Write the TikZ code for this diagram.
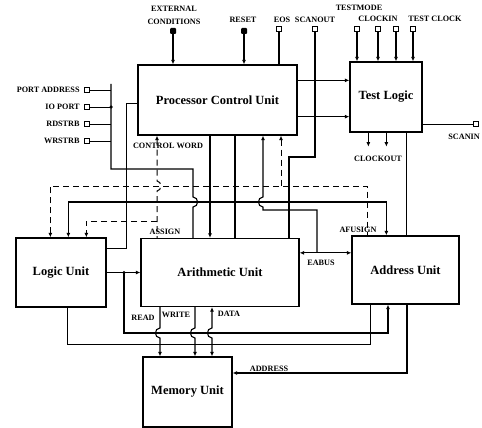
\documentclass[tikz,border=0pt]{standalone}
\usepackage{fontspec}
\setmainfont{Liberation Serif}
\usepackage{tikz}
\usetikzlibrary{arrows.meta,positioning,calc}

\begin{document}
\begin{tikzpicture}[x=1pt, y=-1pt,
  unitbox/.style={rectangle, draw, line width=1.3pt, inner sep=0pt,
    font=\fontsize{12.5}{14}\selectfont\bfseries},
  sig/.style={inner sep=1pt, align=center,
    font=\fontsize{8.2}{13}\selectfont\bfseries},
  hpin/.style={rectangle, draw, line width=0.9pt, fill=white,
    minimum width=5.5pt, minimum height=5pt, inner sep=0pt},
  fpin/.style={rectangle, rounded corners=1pt, fill, minimum width=6pt,
    minimum height=6pt, inner sep=0pt},
  wire/.style={line width=1.1pt},
  fine/.style={line width=0.8pt},
  ctrl/.style={line width=1pt, dash pattern=on 6pt off 4pt},
  tip/.style={-{Latex[length=4.5pt,width=4pt]}},
  pit/.style={{Latex[length=4.5pt,width=4pt]}-},
  both/.style={{Latex[length=4.5pt,width=4pt]}-{Latex[length=4.5pt,width=4pt]}},
  jdot/.style={circle, fill, inner sep=0pt, minimum size=3.5pt}]
  \useasboundingbox (0,0) rectangle (482,428);

  \node[unitbox, minimum width=159pt, minimum height=70pt] (pcu) at (217.5,100)
    {Processor Control Unit};
  \node[unitbox, minimum width=72pt, minimum height=70pt] (tl) at (386,97)
    {Test Logic};
  \node[unitbox, minimum width=90pt, minimum height=69pt] (lu) at (61,272.5)
    {Logic Unit};
  \node[unitbox, minimum width=158pt, minimum height=68pt] (au) at (220,272.5)
    {Arithmetic Unit};
  \node[unitbox, minimum width=107pt, minimum height=68pt] (adu) at (405.5,270)
    {Address Unit};
  \node[unitbox, minimum width=89pt, minimum height=70pt] (mem) at (187.5,392)
    {Memory Unit};

  \node[fpin] (ext) at (173,31) {};
  \node[fpin] (rst) at (244,31) {};
  \node[hpin] (eos) at (279,29) {};
  \node[hpin] (sco) at (315,29) {};
  \node[hpin] (tm1) at (357,29) {};
  \node[hpin] (tm2) at (378,29) {};
  \node[hpin] (tm3) at (396,29) {};
  \node[hpin] (tm4) at (413,29) {};
  \node[hpin] (sci) at (476,124) {};
  \node[hpin] (pa) at (87,90) {};
  \node[hpin] (iop) at (87,107) {};
  \node[hpin] (rds) at (87,124) {};
  \node[hpin] (wrs) at (87,141) {};

  \node[sig] (extl) at (174,15) {EXTERNAL\\CONDITIONS};
  \node[sig] (rstl) at (243,20) {RESET};
  \node[sig] (eosl) at (282,20) {EOS};
  \node[sig] (scol) at (315,20) {SCANOUT};
  \node[sig] (tml) at (359,8) {TESTMODE};
  \node[sig] (ckil) at (378,19) {CLOCKIN};
  \node[sig] (tckl) at (435,19) {TEST CLOCK};
  \node[sig, anchor=east] (scil) at (481,137) {SCANIN};
  \node[sig, left=3pt of pa] (pal) {PORT ADDRESS};
  \node[sig, left=3pt of iop] (iopl) {IO PORT};
  \node[sig, left=3pt of rds] (rdsl) {RDSTRB};
  \node[sig, left=3pt of wrs] (wrsl) {WRSTRB};
  \node[sig] (cwl) at (168,146) {CONTROL WORD};
  \node[sig] (ckol) at (378,159) {CLOCKOUT};
  \node[sig] (asl) at (165,232) {ASSIGN};
  \node[sig] (afl) at (358,230) {AFUSIGN};
  \node[sig] (eal) at (321,263) {EABUS};
  \node[sig] (rdl) at (143,318) {READ};
  \node[sig] (wrl) at (176,315) {WRITE};
  \node[sig] (dtl) at (229,314) {DATA};
  \node[sig] (adl) at (269,369) {ADDRESS};

  \coordinate (cw) at (157,221);
  \coordinate (sg) at (281,186);
  \coordinate (cb) at (210,202);
  \coordinate (db) at (235,160);
  \coordinate (ab) at (263,210);
  \coordinate (ea) at (317,210);
  \coordinate (so) at (289,157);
  \coordinate (pbt) at (111,84);
  \coordinate (pb) at (111,169);
  \coordinate (pbc) at (193,169);
  \coordinate (lk) at (126,248);
  \coordinate (lb) at (124,272.5);
  \coordinate (rb) at (388,333);
  \coordinate (lo) at (370,344);
  \coordinate (rd) at (160,333);
  \coordinate (wr) at (195,333);
  \coordinate (dt) at (212,333);
  \coordinate (ad) at (407,373);
  \coordinate (ta) at (406,180);
  \coordinate (p1) at ($(pcu.north east)+(0,16)$);
  \coordinate (p2) at ($(pcu.south east)+(0,-19)$);
  \coordinate (eab) at ($(au.north east)+(0,15)$);

  \draw[wire, tip] (ext.south) -- (ext.south |- pcu.north);
  \draw[wire, tip] (rst.south) -- (rst.south |- pcu.north);
  \draw[wire] (eos.south) -- (eos.south |- pcu.north);
  \draw[wire, tip] (tm1.south) -- (tm1.south |- tl.north);
  \draw[wire, tip] (tm2.south) -- (tm2.south |- tl.north);
  \draw[wire, tip] (tm3.south) -- (tm3.south |- tl.north);
  \draw[wire, tip] (tm4.south) -- (tm4.south |- tl.north);
  \draw[wire, tip] (p1) -- (p1 -| tl.west);
  \draw[wire, tip] (p2) -- (p2 -| tl.west);
  \draw[fine] (sci.west) -- (sci.west -| tl.east);
  \draw[wire, tip] ($(tl.south west)+(19,0)$) -- ++(0,14);
  \draw[wire, tip] ($(tl.south west)+(37,0)$) -- ++(0,14);
  \draw[fine] (ta |- tl.south) -- (ta |- adu.north);
  \draw[wire] (sco.south) |- (so) -- (so |- au.north);

  \draw[fine] (pa.east) -- (pa.east -| pbt);
  \draw[fine] (iop.east) -- (iop.east -| pbt);
  \draw[fine] (rds.east) -- (rds.east -| pbt);
  \draw[fine] (wrs.east) -- (wrs.east -| pbt);
  \node[jdot] at (iop.east -| pbt) {};
  \draw[wire] (pbt) -- (pb) -- (pbc) -- (193,197)
    .. controls (199,197) and (199,207) .. (193,207) -- (pbc |- au.north);
  \draw[fine] ($(pcu.west)+(0,3)$) -| (lk) -- (lk -| lu.east);

  \draw[ctrl, pit] (cw |- pcu.south) -- (157,181)
    .. controls (162,181) and (162,191) .. (157,191) -- (cw |- au.north);
  \draw[ctrl, tip] (cw) -| ($(lu.north west)+(71,0)$);
  \draw[ctrl, pit] (sg |- pcu.south) -- (sg);
  \draw[ctrl, pit] ($(lu.north west)+(35,0)$) |- (sg)
    -| ($(adu.north west)+(16,0)$);

  \draw[wire, tip] (cb |- pcu.south) -- (cb |- au.north);
  \draw[wire, both] ($(lu.north west)+(53,0)$) |- (cb)
    -| ($(adu.north west)+(35,0)$);
  \node[jdot] at (cb) {};
  \draw[wire] (db |- pcu.south) -- (db |- au.north);
  \draw[wire, pit] (ab |- pcu.south) -- (263,197)
    .. controls (257,197) and (257,207) .. (263,207) -- (ab) -- (ea)
    -- (ea |- eab);
  \draw[wire, both] (eab) -- (eab -| adu.west);

  \draw[wire, tip] (lu.east) -- (lu.east -| au.west);
  \node[jdot] at (lb) {};
  \draw[wire, tip] (lb) |- (rb) -- (rb |- adu.south);
  \draw[fine] ($(lu.south west)+(52,0)$) |- (lo) -- (lo |- adu.south);

  \draw[wire, tip] (rd |- au.south) -- (160,328)
    .. controls (154,328) and (154,338) .. (160,338) -- (rd |- mem.north);
  \draw[wire, tip] (wr |- au.south) -- (195,328)
    .. controls (189,328) and (189,338) .. (195,338) -- (wr |- mem.north);
  \draw[wire, both] (dt |- au.south) -- (212,328)
    .. controls (206,328) and (206,338) .. (212,338) -- (dt |- mem.north);
  \draw[wire, tip] (ad |- adu.south) -- (ad) -- (ad -| mem.east);
\end{tikzpicture}
\end{document}
